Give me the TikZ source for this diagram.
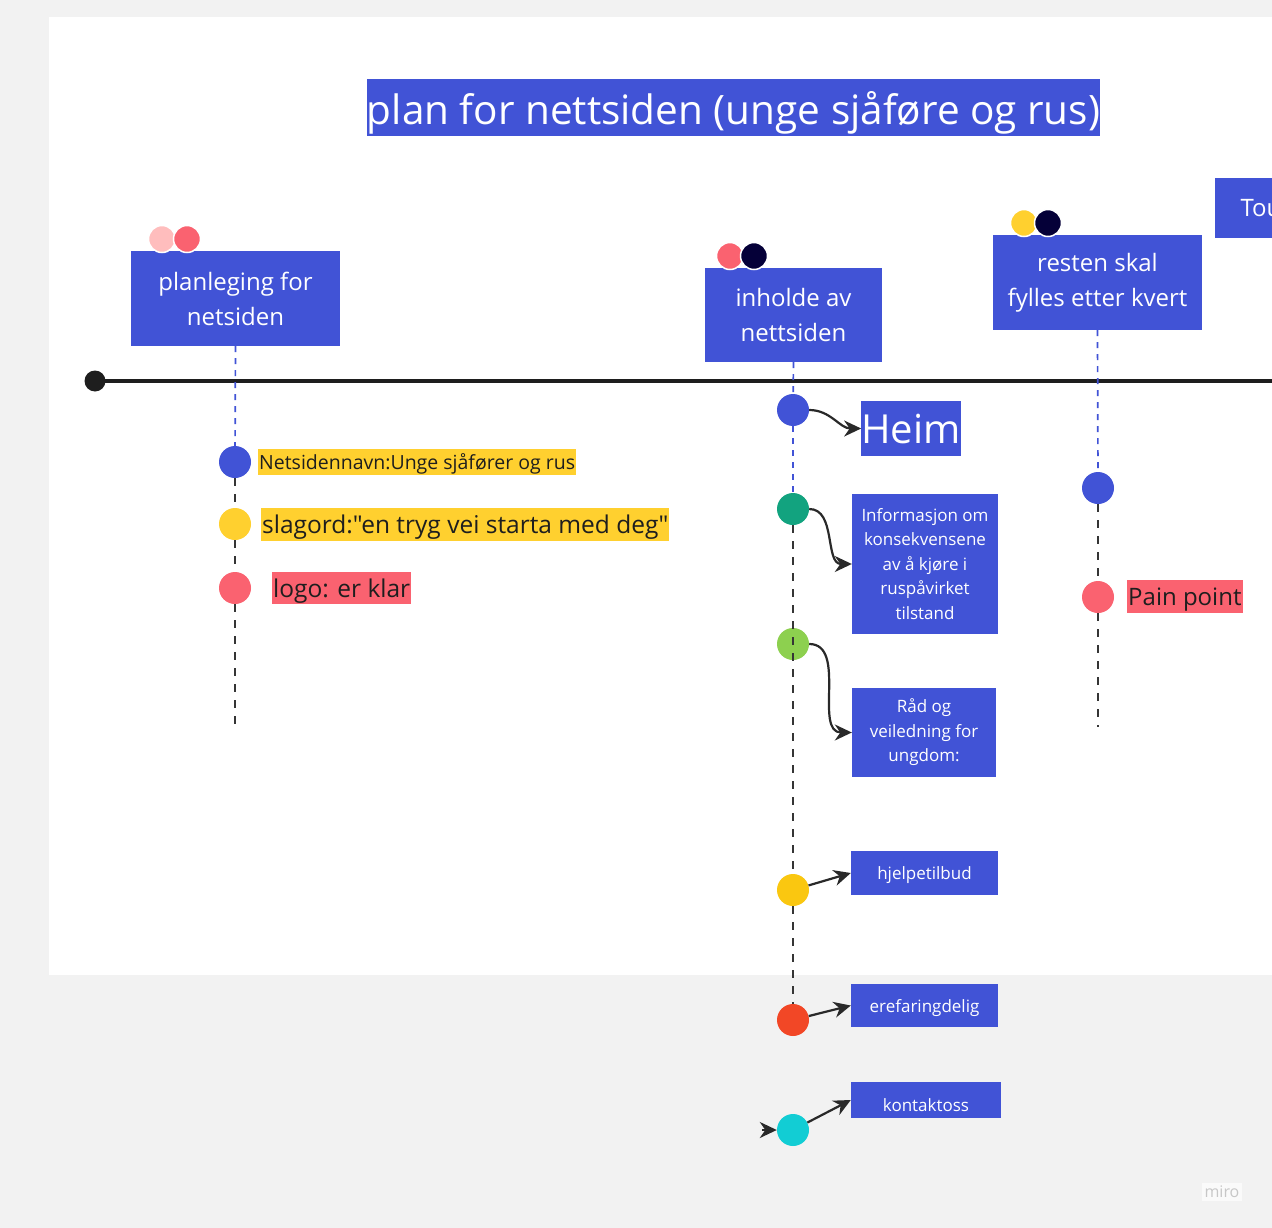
\documentclass[tikz,border=0pt]{standalone}
\usepackage{fontspec}
\setmainfont{Open Sans}[Ligatures=TeXOff]
\usetikzlibrary{arrows.meta}
\definecolor{miroblue}{RGB}{65,83,214}
\definecolor{canvas}{RGB}{242,242,242}
\definecolor{softpink}{RGB}{255,189,189}
\definecolor{coral}{RGB}{250,98,112}
\definecolor{navy}{RGB}{5,0,56}
\definecolor{sun}{RGB}{255,208,47}
\definecolor{amber}{RGB}{250,199,16}
\definecolor{teal}{RGB}{18,163,127}
\definecolor{lime}{RGB}{141,208,79}
\definecolor{flame}{RGB}{242,71,38}
\definecolor{aqua}{RGB}{18,205,212}
\definecolor{ink}{RGB}{30,30,30}

\begin{document}
\begin{tikzpicture}[x=1pt,y=-1pt,
  card/.style={fill=miroblue,text=white,align=center,inner sep=0pt},
  oneline/.style={text depth=0pt},
  bigtxt/.style={font=\fontsize{24}{35}\selectfont},
  smalltxt/.style={font=\fontsize{17}{24.5}\selectfont},
  hilite/.style={anchor=west,inner xsep=1pt,inner ysep=0pt,text=ink,text depth=0pt},
  dot/.style={circle,inner sep=0pt,minimum size=32},
  tagdot/.style={circle,inner sep=0pt,minimum size=27,draw=white,line width=1.5},
  bluedash/.style={miroblue,line width=1.7,dash pattern=on 6 off 6},
  blackdash/.style={ink!90,line width=1.8,dash pattern=on 8 off 8},
  link/.style={ink!95,line width=2.2,-{Stealth[length=17,width=16]}}]
\path[use as bounding box,clip] (0,0) rectangle (1272,1228);
\fill[canvas] (0,0) rectangle (1272,1228);
\fill[white] (49,17) rectangle (1272,975);

% title and cards
\node[card,oneline,minimum width=733,minimum height=57,font=\fontsize{40.5}{48}\selectfont] (title) at (733.5,107.5) {plan for nettsiden (unge sjåføre og rus)};
\fill[miroblue] (1215,178) rectangle (1280,238);
\node[anchor=west,text=white,oneline,bigtxt] (tou) at (1237,208) {Tou};

\node[card,bigtxt,minimum width=209,minimum height=95] (plan) at (235.5,298.5) {planleging for\\netsiden};
\node[card,bigtxt,minimum width=177,minimum height=94] (inhold) at (793.5,315) {inholde av\\nettsiden};
\node[card,bigtxt,minimum width=209,minimum height=95] (rest) at (1097.5,282.5) {resten skal\\fylles etter kvert};

\node[tagdot,fill=softpink] (p1) at (162,239) {};
\node[tagdot,fill=coral] (p2) at (187,239) {};
\node[tagdot,fill=coral] (i1) at (730,256) {};
\node[tagdot,fill=navy] (i2) at (754,256) {};
\node[tagdot,fill=sun] (r1) at (1024,223) {};
\node[tagdot,fill=navy] (r2) at (1048,223) {};

% timeline
\node[circle,fill=ink,inner sep=0pt,minimum size=21] (start) at (95,381) {};
\coordinate (finish) at (1280,381);
\draw[ink,line width=4.5] (start.center) -- (finish);

% column 1
\node[dot,fill=miroblue] (navnd) at (235,462) {};
\node[dot,fill=sun] (slagd) at (235,524) {};
\node[dot,fill=coral] (logod) at (235,588) {};
\coordinate (end1) at (235,732);
\draw[bluedash] (plan.south) -- (navnd);
\draw[blackdash] (navnd) -- (slagd);
\draw[blackdash] (slagd) -- (logod);
\draw[blackdash] (logod) -- (end1);
\node[hilite,fill=sun,minimum height=26,font=\fontsize{19.5}{22}\selectfont] (navn) at (258,462) {Netsidennavn:Unge sjåfører og rus};
\node[hilite,fill=sun,minimum height=33,font=\fontsize{24.5}{28}\selectfont] (slag) at (261,524.5) {slagord:"en tryg vei starta med deg"};
\node[hilite,fill=coral,minimum height=32,font=\fontsize{24.5}{28}\selectfont] (logo) at (272,588) {logo: er klar};

% column 2
\node[dot,fill=miroblue] (heimd) at (793,410) {};
\node[dot,fill=teal] (infod) at (793,509) {};
\node[dot,fill=lime] (raadd) at (793,644) {};
\node[dot,fill=amber] (hjelpd) at (793,890) {};
\node[dot,fill=flame] (erfd) at (793,1020) {};
\node[dot,fill=aqua] (kontd) at (793,1130) {};
\draw[bluedash] (inhold.south) -- (heimd);
\draw[bluedash] (heimd) -- (infod);
\draw[blackdash] (infod) -- (hjelpd);
\draw[blackdash] (hjelpd) -- (erfd);

\node[card,oneline,minimum width=98,minimum height=55,font=\fontsize{40}{48}\selectfont] (heim) at (911,428.5) {Heim};
\node[card,smalltxt,minimum width=146,minimum height=140] (info) at (925,564) {Informasjon om\\konsekvensene\\av å kjøre i\\ruspåvirket\\tilstand};
\node[card,smalltxt,minimum width=144,minimum height=89] (raad) at (924,732.5) {Råd og\\veiledning for\\ungdom:};
\node[card,smalltxt,oneline,minimum width=147,minimum height=44] (hjelp) at (924.5,873) {hjelpetilbud};
\node[card,smalltxt,oneline,minimum width=147,minimum height=43] (erf) at (924.5,1005.5) {erefaringdelig};
\node[card,smalltxt,oneline,minimum width=150,minimum height=36,text height=22pt] (kont) at (926,1100) {kontaktoss};

\draw[link] (heimd.east) to[out=0,in=180] (heim.west);
\draw[link] (infod.east) to[out=0,in=180] (info.west);
\draw[link] (raadd.east) to[out=0,in=180] (raad.west);
\draw[link] (hjelpd) -- (hjelp.west);
\draw[link] (erfd) -- (erf.west);
\draw[link] (kontd) -- (kont.west);
\coordinate (kin) at (762,1130);
\draw[link] (kin) -- (kontd.west);

% column 3
\node[dot,fill=miroblue] (restd) at (1098,488) {};
\node[dot,fill=coral] (paind) at (1098,597) {};
\coordinate (end3) at (1098,727);
\draw[bluedash] (rest.south) -- (restd);
\draw[blackdash] (restd) -- (paind);
\draw[blackdash] (paind) -- (end3);
\node[hilite,fill=coral,minimum height=33,font=\fontsize{24}{28}\selectfont] (pain) at (1127,596.5) {Pain point};

% watermark
\node[fill=white!60!canvas,text=black!22,inner sep=3pt,oneline,font=\fontsize{16}{18}\selectfont] (miro) at (1222,1192) {miro};
\end{tikzpicture}
\end{document}
